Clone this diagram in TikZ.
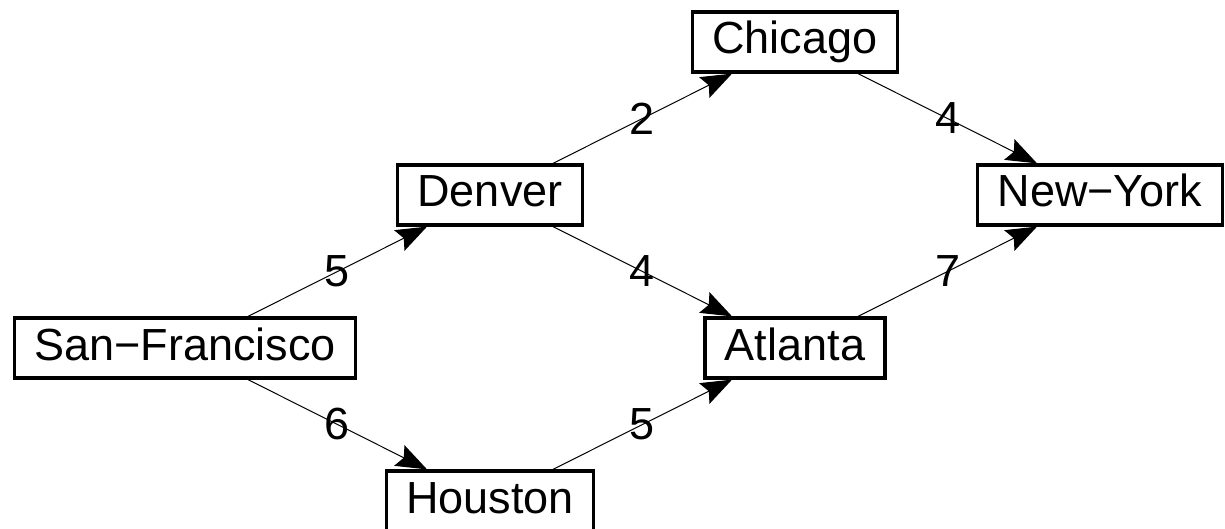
\documentclass[tikz,border=0pt]{standalone}
\usepackage{fontspec}
\setmainfont{Liberation Sans}
\usetikzlibrary{arrows.meta,calc}
\begin{document}
\begin{tikzpicture}[x=1pt,y=-1pt,
  city/.style={draw, line width=3.2pt, minimum height=60pt, inner xsep=20pt, inner ysep=0pt,
    text height=33pt, text depth=9pt, font=\fontsize{45}{50}\selectfont},
  road/.style={line width=1pt, -{Stealth[length=31pt,width=23pt,inset=5pt]}},
  weight/.style={font=\fontsize{45}{50}\selectfont, inner sep=0pt}]
\useasboundingbox (0,0) rectangle (1225,529);
\node[city] (sf) at (185,348) {San−Francisco};
\node[city] (den) at (490,195) {Denver};
\node[city] (hou) at (490,501) {Houston};
\node[city] (chi) at (795,42) {Chicago};
\node[city] (atl) at (795,348) {Atlanta};
\node[city] (ny) at (1100,195) {New−York};
\draw[road] (sf) -- (den);
\draw[road] (sf) -- (hou);
\draw[road] (den) -- (chi);
\draw[road] (den) -- (atl);
\draw[road] (hou) -- (atl);
\draw[road] (chi) -- (ny);
\draw[road] (atl) -- (ny);
\node[weight] (w1) at ($(sf)!0.5!(den)$) {5};
\node[weight] (w2) at ($(sf)!0.5!(hou)$) {6};
\node[weight] (w3) at ($(den)!0.5!(chi)$) {2};
\node[weight] (w4) at ($(den)!0.5!(atl)$) {4};
\node[weight] (w5) at ($(hou)!0.5!(atl)$) {5};
\node[weight] (w6) at ($(chi)!0.5!(ny)$) {4};
\node[weight] (w7) at ($(atl)!0.5!(ny)$) {7};
\end{tikzpicture}
\end{document}
